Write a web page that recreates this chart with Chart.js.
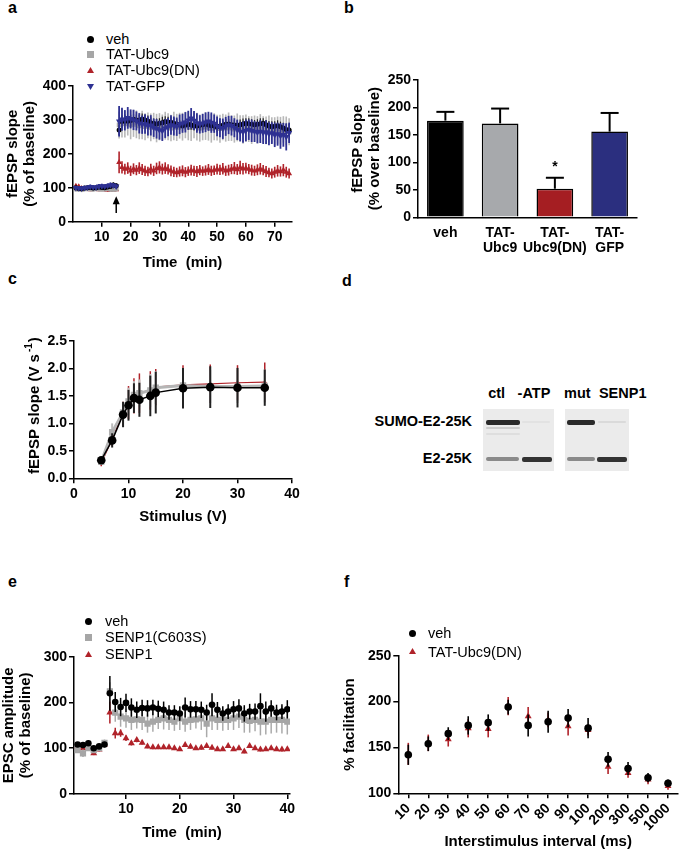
<!DOCTYPE html>
<html>
<head>
<meta charset="utf-8">
<script src="https://cdn.jsdelivr.net/npm/chart.js@4.4.1/dist/chart.umd.min.js"></script>
<style>
html,body{margin:0;padding:0;background:#fff;}
#page{position:relative;width:685px;height:856px;overflow:hidden;font-family:"Liberation Sans",Arial,Helvetica,sans-serif;color:#000;}
#page canvas{position:absolute;}
.pl{position:absolute;font-weight:bold;font-size:16px;line-height:16px;}
.lg{position:absolute;font-size:14.5px;line-height:16px;white-space:nowrap;}
.mk{position:absolute;}
.bl{position:absolute;font-weight:bold;font-size:14.5px;line-height:16px;white-space:nowrap;}
.blot{position:absolute;background:#ebebeb;}
.band{position:absolute;border-radius:2px;filter:blur(0.7px);}
</style>
</head>
<body>
<div id="page">
  <div class="pl" style="left:8px;top:0px">a</div>
  <div class="pl" style="left:344px;top:0px">b</div>
  <div class="pl" style="left:8px;top:271px">c</div>
  <div class="pl" style="left:342px;top:273px">d</div>
  <div class="pl" style="left:8px;top:574px">e</div>
  <div class="pl" style="left:344px;top:574px">f</div>

  <!-- panel d: western blot -->
  <div class="bl" style="left:496.7px;top:385px;transform:translateX(-50%)">ctl</div>
  <div class="bl" style="left:534px;top:385px;transform:translateX(-50%)">-ATP</div>
  <div class="bl" style="left:577.3px;top:385px;transform:translateX(-50%)">mut</div>
  <div class="bl" style="left:622.7px;top:385px;transform:translateX(-50%)">SENP1</div>
  <div class="bl" style="right:213px;top:412.7px">SUMO-E2-25K</div>
  <div class="bl" style="right:213px;top:449.7px">E2-25K</div>
  <div class="blot" style="left:483px;top:409px;width:71px;height:62px"></div>
  <div class="blot" style="left:565px;top:409px;width:64px;height:62px"></div>
  <div class="band" style="left:486px;top:419.5px;width:34px;height:5.5px;background:#2a2a2a"></div>
  <div class="band" style="left:486px;top:427px;width:34px;height:2px;background:#cdcdcd"></div>
  <div class="band" style="left:486px;top:433px;width:34px;height:2px;background:#dedede"></div>
  <div class="band" style="left:486px;top:457px;width:33px;height:3.5px;background:#8a8a8a"></div>
  <div class="band" style="left:522px;top:456.5px;width:30px;height:5px;background:#333"></div>
  <div class="band" style="left:522px;top:421px;width:28px;height:2px;background:#e2e2e2"></div>
  <div class="band" style="left:567px;top:419.5px;width:28px;height:5.5px;background:#2a2a2a"></div>
  <div class="band" style="left:567px;top:457px;width:28px;height:3.5px;background:#8a8a8a"></div>
  <div class="band" style="left:597px;top:456.5px;width:30px;height:5px;background:#333"></div>
  <div class="band" style="left:598px;top:421px;width:28px;height:2px;background:#dadada"></div>
</div>
<script>
// ---------------- DATA ----------------
// panel a : fEPSP slope (% of baseline) vs time (min)
const aNames = ['veh', 'TAT-Ubc9', 'TAT-Ubc9(DN)', 'TAT-GFP'];
const aXTicks = [10, 20, 30, 40, 50, 60, 70];
const aTime = [1,2,3,4,5,6,7,8,9,10,11,12,13,14,15,
16,17,18,19,20,21,22,23,24,25,
26,27,28,29,30,31,32,33,34,35,
36,37,38,39,40,41,42,43,44,45,
46,47,48,49,50,51,52,53,54,55,
56,57,58,59,60,61,62,63,64,65,
66,67,68,69,70,71,72,73,74,75];
const aVeh = [100,98,97,99,100,101,99,100,102,101,100,102,104,108,106,
270,295,300,296,298,302,300,298,303,300,
297,292,290,288,290,292,295,294,293,290,
288,285,283,285,287,286,283,282,284,286,
288,285,283,282,280,282,284,287,288,286,
285,284,286,288,290,289,287,286,287,289,
290,286,282,280,281,283,280,276,272,270];
const aVehErr = [5,5,6,5,6,5,6,5,6,6,5,6,7,8,7,
15,18,16,15,17,16,15,17,16,15,
16,15,14,16,15,17,16,15,16,15,
14,15,16,15,16,15,14,15,16,15,
14,16,15,15,16,15,14,16,15,16,
15,14,15,16,15,16,15,14,15,16,
15,14,15,16,15,16,15,16,17,18];
const aUbc9 = [97,96,95,97,98,97,96,98,97,96,97,98,96,95,97,
285,290,288,292,285,290,287,282,285,280,
284,278,282,276,280,278,283,280,276,282,
278,283,280,285,282,278,284,280,276,279,
282,278,275,280,277,274,279,276,280,276,
273,278,275,272,276,273,270,274,271,275,
272,269,273,270,266,270,268,272,268,265];
const aUbc9Err = [8,7,8,7,8,7,8,7,8,7,8,7,8,7,8,
40,42,40,38,42,40,41,39,42,40,
38,41,39,42,40,38,41,40,39,42,
40,38,41,39,42,40,38,41,40,39,
41,39,42,40,38,41,39,40,42,38,
40,41,39,42,40,38,41,39,40,42,
39,41,40,38,42,40,41,39,42,40];
const aUbc9DN = [105,103,98,96,97,95,96,97,95,96,95,94,93,94,95,
175,160,155,158,150,156,152,158,154,150,
148,155,150,157,160,155,158,154,150,147,
145,148,150,146,149,152,150,148,152,149,
151,154,150,152,155,153,156,150,152,155,
158,154,160,156,158,155,152,150,153,156,
152,148,145,142,146,150,148,152,146,142];
const aUbc9DNErr = [6,6,5,5,6,5,5,6,5,5,6,5,5,6,5,
32,18,16,17,15,16,15,17,16,15,
14,16,15,17,18,16,17,15,16,15,
14,15,16,15,14,16,15,16,15,14,
15,16,15,14,16,15,17,15,16,15,
18,16,20,17,16,15,16,15,16,17,
15,16,14,15,16,17,15,18,16,15];
const aGFP = [100,99,98,100,101,103,102,101,104,105,104,106,108,107,104,
296,302,299,306,303,300,297,290,286,288,
282,284,277,274,270,268,275,279,285,282,
280,287,290,293,299,305,298,291,287,290,
293,296,292,289,281,277,274,281,285,283,
277,271,266,264,269,271,268,266,263,266,
262,264,259,261,256,258,253,256,250,262];
const aGFPErr = [6,6,5,6,6,7,6,6,7,7,6,7,8,7,6,
45,34,30,32,28,30,28,30,27,29,
28,30,27,29,28,30,28,27,29,28,
27,29,28,30,28,30,28,29,27,28,
29,28,30,27,29,28,30,28,27,29,
28,30,29,31,32,30,33,31,32,34,
33,35,34,32,36,34,38,35,40,30];
const aArrow = [15, 75, 26]; // time, tip value, tail value

// panel b : fEPSP slope (% over baseline)
const bLabels = ['veh', ['TAT-', 'Ubc9'], ['TAT-', 'Ubc9(DN)'], ['TAT-', 'GFP']];
const bValues = [176, 171, 52, 156];
const bErr = [16, 27, 20, 34];
const bSignif = ['', '', '*', ''];

// panel c : input-output curve
const cNames = ['veh', 'TAT-Ubc9', 'TAT-Ubc9(DN)'];
const cStim = [5, 7, 9, 10, 11, 12, 14, 15, 20, 25, 30, 35];
const cVeh = [0.33, 0.69, 1.16, 1.33, 1.46, 1.43, 1.50, 1.56, 1.64, 1.66, 1.65, 1.65];
const cVehErr = [0.05, 0.13, 0.23, 0.28, 0.27, 0.31, 0.37, 0.38, 0.37, 0.38, 0.36, 0.33];
const cUbc9 = [0.30, 0.84, 1.20, 1.40, 1.52, 1.55, 1.60, 1.65, 1.69, 1.67, 1.67, 1.68];
const cUbc9Err = [0.04, 0.16, 0.20, 0.25, 0.25, 0.25, 0.30, 0.30, 0.30, 0.30, 0.30, 0.30];
const cUbc9DN = [0.27, 0.72, 1.18, 1.38, 1.50, 1.55, 1.60, 1.66, 1.70, 1.72, 1.74, 1.75];
const cUbc9DNErr = [0.05, 0.13, 0.22, 0.30, 0.32, 0.36, 0.35, 0.33, 0.36, 0.35, 0.32, 0.36];
const cYTitle = ['fEPSP slope (V s', '-1', ')'];

// panel e : EPSC amplitude (% of baseline) vs time
const eNames = ['veh', 'SENP1(C603S)', 'SENP1'];
const eXTicks = [10, 20, 30, 40];
const eTime = [1,2,3,4,5,6,7,8,9,10,11,12,13,14,15,16,17,18,19,20,
21,22,23,24,25,26,27,28,29,30,31,32,33,34,35,36,37,38,39,40];
const eVeh = [108,107,111,100,104,108,220,201,190,199,
189,184,188,187,189,186,184,178,178,176,
189,185,185,184,178,195,184,176,180,185,
187,176,180,180,192,180,187,178,180,185];
const eVehErr = [5,5,6,5,5,6,38,22,20,20,
20,18,18,18,17,18,18,16,16,16,
22,18,18,18,17,25,17,16,16,18,
20,18,17,18,28,22,18,17,16,20];
const eMut = [96,89,100,96,100,112,224,178,169,165,
162,163,162,154,158,162,165,162,158,165,
158,162,163,165,154,165,162,162,162,165,
169,162,160,162,158,158,162,162,162,158];
const eMutErr = [5,8,6,5,6,7,20,20,22,20,
22,20,22,20,22,20,24,22,20,25,
22,22,20,25,30,25,22,24,22,25,
25,28,26,25,30,28,30,28,30,28];
const eSenp = [104,100,100,89,97,108,178,133,133,122,
111,118,112,104,102,102,102,102,100,98,
107,103,100,101,105,101,98,98,105,98,
100,93,105,100,97,98,100,98,97,98];
const eSenpErr = [4,4,4,4,4,4,24,12,8,6,
5,5,4,4,4,4,4,4,4,4,
4,4,4,4,4,4,4,4,4,4,
4,4,4,4,4,4,4,4,4,4];

// panel f : paired-pulse facilitation
const fNames = ['veh', 'TAT-Ubc9(DN)'];
const fLabels = ['10','20','30','40','50','60','70','80','90','100','200','300','500','1000'];
const fVeh = [142, 154, 165, 174, 177, 194, 174, 178, 182, 171, 137, 127, 117, 111];
const fVehErr = [11, 8, 7, 10, 9, 8, 12, 12, 10, 11, 8, 7, 5, 4];
const fDN = [143, 155, 159, 171, 170, 195, 184, 180, 173, 169, 129, 122, 115, 108];
const fDNErr = [12, 9, 8, 10, 9, 10, 10, 8, 10, 6, 8, 5, 5, 4];

// ---------------- STYLE ----------------
const FONT = '"Liberation Sans", Arial, Helvetica, sans-serif';
const C_BLACK = '#000000', C_GRAY = '#a6a6a6', C_RED = '#b0232a', C_BLUE = '#2e3192';
Chart.defaults.font.family = FONT;
Chart.defaults.color = '#000';
const page = document.getElementById('page');

function yv(d) { return (d !== null && typeof d === 'object') ? d.y : d; }

function drawErr(chart, idx, phase) {
  const ds = chart.data.datasets[idx];
  if (!ds.errors || (ds.errPhase || 'before') !== phase) return;
  const meta = chart.getDatasetMeta(idx);
  const ys = chart.scales[meta.yAxisID];
  const ctx = chart.ctx;
  ctx.save();
  ctx.strokeStyle = ds.errColor || '#000';
  ctx.lineWidth = ds.errWidth || 1.5;
  meta.data.forEach((el, k) => {
    const v = yv(ds.data[k]); const e = ds.errors[k];
    if (v == null || e == null) return;
    const top = ys.getPixelForValue(v + e);
    const bot = ds.errUpOnly ? ys.getPixelForValue(v) : ys.getPixelForValue(v - e);
    ctx.beginPath(); ctx.moveTo(el.x, top); ctx.lineTo(el.x, bot); ctx.stroke();
    if (ds.errCap) { ctx.beginPath(); ctx.moveTo(el.x - ds.errCap, top); ctx.lineTo(el.x + ds.errCap, top); ctx.stroke(); }
  });
  ctx.restore();
}
const errorBars = {
  id: 'errorBars',
  beforeDatasetDraw(chart, args) { drawErr(chart, args.index, 'before'); },
  afterDatasetDraw(chart, args) { drawErr(chart, args.index, 'after'); }
};

function makeCanvas(box) {
  const c = document.createElement('canvas');
  c.width = box[2] - box[0]; c.height = box[3] - box[1];
  c.style.left = box[0] + 'px'; c.style.top = box[1] + 'px';
  c.style.width = c.width + 'px'; c.style.height = c.height + 'px';
  page.appendChild(c);
  return c;
}

function scaleOpts(o) {
  const s = {
    type: o.type || 'linear',
    offset: !!o.offset,
    border: {display: true, color: '#000', width: 1.5},
    grid: {display: !o.noTicks, drawOnChartArea: false, drawTicks: !o.noTicks, tickLength: o.tl === undefined ? 5 : o.tl, color: '#000', lineWidth: 1.5},
    ticks: Object.assign({color: '#000', font: {size: 14, weight: 'bold', lineHeight: o.tickLH || 1.2},
      padding: o.pad === undefined ? 2 : o.pad, autoSkip: false, maxRotation: o.rot || 0, minRotation: o.rot || 0}, o.ticks || {}),
    title: o.title ? {display: true, text: o.title, color: '#000', font: {size: 15, weight: 'bold', lineHeight: 1.15}, padding: o.titlePad} : {display: false}
  };
  if (o.min !== undefined) s.min = o.min;
  if (o.max !== undefined) s.max = o.max;
  if (o.tickValues) s.afterBuildTicks = sc => { sc.ticks = o.tickValues.map(v => ({value: v})); };
  return s;
}

function makeChart(box, area, type, data, xo, yo, plugins) {
  const cv = makeCanvas(box);
  const yW = area[0] - box[0], padTop = area[1] - box[1], padRight = box[2] - area[2], xH = box[3] - area[3];
  const xs = scaleOpts(xo), ys = scaleOpts(yo);
  xs.afterFit = s => { s.height = xH; };
  ys.afterFit = s => { s.width = yW; };
  return new Chart(cv, {
    type, data,
    options: {
      responsive: false, animation: false, devicePixelRatio: 1,
      layout: {padding: {top: padTop, right: padRight, left: 0, bottom: 0}},
      plugins: {legend: {display: false}, tooltip: {enabled: false}},
      scales: {x: xs, y: ys}
    },
    plugins: [errorBars].concat(plugins || [])
  });
}

function markerSVG(shape, color, s) {
  let inner;
  if (shape === 'circle') inner = `<circle cx="${s/2}" cy="${s/2}" r="${s/2}" fill="${color}"/>`;
  else if (shape === 'rect') inner = `<rect x="0" y="0" width="${s}" height="${s}" fill="${color}"/>`;
  else if (shape === 'tri') inner = `<polygon points="${s/2},0 ${s},${s*0.87} 0,${s*0.87}" fill="${color}"/>`;
  else inner = `<polygon points="0,${s*0.13} ${s},${s*0.13} ${s/2},${s}" fill="${color}"/>`;
  return `<svg width="${s}" height="${s}" xmlns="http://www.w3.org/2000/svg">${inner}</svg>`;
}
function addLegend(names, shapes, colors, rowsY, markerX, textX, size) {
  names.forEach((n, i) => {
    const m = document.createElement('div');
    m.className = 'mk';
    m.style.left = (markerX - size / 2) + 'px'; m.style.top = (rowsY[i] - size / 2) + 'px';
    m.style.width = size + 'px'; m.style.height = size + 'px'; m.style.lineHeight = '0';
    m.innerHTML = markerSVG(shapes[i], colors[i], size);
    page.appendChild(m);
    const t = document.createElement('div');
    t.className = 'lg'; t.textContent = n;
    t.style.left = textX + 'px'; t.style.top = (rowsY[i] - 8) + 'px';
    page.appendChild(t);
  });
}

function pts(xsArr, ysArr) { return xsArr.map((x, i) => ({x, y: ysArr[i]})); }

// ---------------- PANEL A ----------------
const arrowPlugin = {
  id: 'arrowA',
  afterDatasetsDraw(chart) {
    const ctx = chart.ctx, x = chart.scales.x.getPixelForValue(aArrow[0]);
    const tip = chart.scales.y.getPixelForValue(aArrow[1]), tail = chart.scales.y.getPixelForValue(aArrow[2]);
    ctx.save(); ctx.strokeStyle = '#000'; ctx.fillStyle = '#000'; ctx.lineWidth = 1.5;
    ctx.beginPath(); ctx.moveTo(x, tail); ctx.lineTo(x, tip + 5); ctx.stroke();
    ctx.beginPath(); ctx.moveTo(x, tip); ctx.lineTo(x - 3.5, tip + 8); ctx.lineTo(x + 3.5, tip + 8); ctx.closePath(); ctx.fill();
    ctx.restore();
  }
};
makeChart([0, 55, 305, 275], [73, 86, 292, 221.7], 'scatter', {
  datasets: [
    {label: aNames[3], data: pts(aTime, aGFP), errors: aGFPErr, errColor: C_BLUE, errWidth: 1.8, pointStyle: 'triangle', rotation: 180, pointRadius: 3.6, backgroundColor: C_BLUE, borderWidth: 0, order: 0},
    {label: aNames[0], data: pts(aTime, aVeh), errors: aVehErr, errColor: '#222', errWidth: 1.2, pointStyle: 'circle', pointRadius: 2.5, backgroundColor: C_BLACK, borderWidth: 0, order: 1},
    {label: aNames[1], data: pts(aTime, aUbc9), errors: aUbc9Err, errColor: '#b8b8b8', errWidth: 1.6, pointStyle: 'rect', pointRadius: 3.3, backgroundColor: C_GRAY, borderWidth: 0, order: 2},
    {label: aNames[2], data: pts(aTime, aUbc9DN), errors: aUbc9DNErr, errColor: C_RED, errWidth: 1.6, pointStyle: 'triangle', pointRadius: 3.4, backgroundColor: C_RED, borderWidth: 0, order: 3}
  ]
},
{min: 0, max: 76, tickValues: aXTicks, title: 'Time  (min)', titlePad: {top: 0, bottom: 3.7}},
{min: 0, max: 400, ticks: {stepSize: 100}, title: ['fEPSP slope', '(% of baseline)'], titlePad: {top: 4.4, bottom: 0}},
[arrowPlugin]);
addLegend(aNames, ['circle', 'rect', 'tri', 'tridown'], [C_BLACK, C_GRAY, C_RED, C_BLUE], [39, 54, 70, 86], 90, 106, 7);

// ---------------- PANEL B ----------------
const starPlugin = {
  id: 'starB',
  afterDatasetsDraw(chart) {
    const ctx = chart.ctx, meta = chart.getDatasetMeta(0), ys = chart.scales.y;
    ctx.save(); ctx.fillStyle = '#000'; ctx.font = 'bold 14px ' + FONT; ctx.textAlign = 'center'; ctx.textBaseline = 'alphabetic';
    bSignif.forEach((s, i) => { if (s) ctx.fillText(s, meta.data[i].x, ys.getPixelForValue(bValues[i] + bErr[i]) - 7); });
    ctx.restore();
  }
};
makeChart([340, 55, 685, 265], [418, 80, 637, 217.3], 'bar', {
  labels: bLabels,
  datasets: [{data: bValues, errors: bErr, errPhase: 'after', errUpOnly: true, errCap: 9, errWidth: 2, errColor: '#000',
    backgroundColor: ['#000000', '#a7a9ac', '#a51e22', '#2b2f7f'], borderColor: '#000', borderWidth: 1.5,
    barPercentage: 0.67, categoryPercentage: 1.0}]
},
{type: 'category', offset: true, noTicks: true, tl: 0, pad: 8, tickLH: 1.1},
{min: 0, max: 250, ticks: {stepSize: 50}, title: ['fEPSP slope', '(% over baseline)'], titlePad: {top: 8.9, bottom: 0}},
[starPlugin]);

// ---------------- PANEL C ----------------
const cTitlePlugin = {
  id: 'cTitle',
  afterDraw(chart) {
    const ctx = chart.ctx, a = chart.chartArea;
    ctx.save();
    ctx.translate(35, (a.top + a.bottom) / 2 - 4);
    ctx.rotate(-Math.PI / 2);
    ctx.fillStyle = '#000'; ctx.textBaseline = 'middle'; ctx.textAlign = 'left';
    const f1 = 'bold 15px ' + FONT, f2 = 'bold 10px ' + FONT;
    ctx.font = f1; const w1 = ctx.measureText(cYTitle[0]).width, w3 = ctx.measureText(cYTitle[2]).width;
    ctx.font = f2; const w2 = ctx.measureText(cYTitle[1]).width;
    let x = -(w1 + w2 + w3 + 3) / 2;
    ctx.font = f1; ctx.fillText(cYTitle[0], x, 0); x += w1 + 2;
    ctx.font = f2; ctx.fillText(cYTitle[1], x, -6); x += w2 + 1;
    ctx.font = f1; ctx.fillText(cYTitle[2], x, 0);
    ctx.restore();
  }
};
makeChart([0, 320, 310, 530], [74, 341, 292, 478.3], 'scatter', {
  datasets: [
    {label: cNames[0], data: pts(cStim, cVeh), errors: cVehErr, errColor: '#222', errWidth: 2, showLine: true, borderColor: '#000', borderWidth: 1.5, pointStyle: 'circle', pointRadius: 4.3, backgroundColor: '#000', pointBorderWidth: 0, order: 0},
    {label: cNames[1], data: pts(cStim, cUbc9), errors: cUbc9Err, errColor: '#bdbdbd', errWidth: 2, showLine: true, borderColor: '#b5b5b5', borderWidth: 3, pointStyle: 'rect', pointRadius: 4.5, backgroundColor: '#b0b0b0', pointBorderWidth: 0, order: 1},
    {label: cNames[2], data: pts(cStim, cUbc9DN), errors: cUbc9DNErr, errColor: C_RED, errWidth: 1.5, showLine: true, borderColor: C_RED, borderWidth: 1.2, pointStyle: 'triangle', pointRadius: 3, backgroundColor: C_RED, pointBorderWidth: 0, order: 2}
  ]
},
{min: 0, max: 40, ticks: {stepSize: 10}, title: 'Stimulus (V)', titlePad: {top: 0, bottom: 4.4}},
{min: 0, max: 2.5, ticks: {stepSize: 0.5, callback: v => Number(v).toFixed(1)}},
[cTitlePlugin]);

// ---------------- PANEL E ----------------
makeChart([0, 600, 310, 856], [74, 656.7, 290, 794], 'scatter', {
  datasets: [
    {label: eNames[0], data: pts(eTime, eVeh), errors: eVehErr, errColor: '#000', errWidth: 1.5, pointStyle: 'circle', pointRadius: 3.3, backgroundColor: '#000', borderWidth: 0, order: 0},
    {label: eNames[1], data: pts(eTime, eMut), errors: eMutErr, errColor: '#aaaaaa', errWidth: 1.5, pointStyle: 'rect', pointRadius: 4.4, backgroundColor: C_GRAY, borderWidth: 0, order: 1},
    {label: eNames[2], data: pts(eTime, eSenp), errors: eSenpErr, errColor: C_RED, errWidth: 1.5, pointStyle: 'triangle', pointRadius: 4, backgroundColor: C_RED, borderWidth: 0, order: 2}
  ]
},
{min: 0.33, max: 40.5, tickValues: eXTicks, title: 'Time  (min)', titlePad: {top: 0, bottom: 14.4}},
{min: 0, max: 300, ticks: {stepSize: 100}, title: ['EPSC amplitude', '(% of baseline)'], titlePad: {top: 0.4, bottom: 0}});
addLegend(eNames, ['circle', 'rect', 'tri'], [C_BLACK, C_GRAY, C_RED], [621, 637, 654], 88, 105, 7);

// ---------------- PANEL F ----------------
makeChart([340, 600, 685, 856], [398.3, 655.7, 678, 793.3], 'line', {
  labels: fLabels,
  datasets: [
    {label: fNames[0], data: fVeh, errors: fVehErr, errColor: '#000', errWidth: 1.6, showLine: false, pointStyle: 'circle', pointRadius: 3.8, backgroundColor: '#000', borderColor: '#000', pointBorderWidth: 0, order: 0},
    {label: fNames[1], data: fDN, errors: fDNErr, errColor: C_RED, errWidth: 1.6, showLine: false, pointStyle: 'triangle', pointRadius: 4, backgroundColor: C_RED, borderColor: C_RED, pointBorderWidth: 0, order: 1}
  ]
},
{type: 'category', offset: true, rot: 45, title: 'Interstimulus interval (ms)', titlePad: {top: 0, bottom: 5.7}},
{min: 100, max: 250, ticks: {stepSize: 50}, title: '% facilitation', titlePad: {top: 1.4, bottom: 0}});
addLegend(fNames, ['circle', 'tri'], [C_BLACK, C_RED], [633, 651.5], 412.7, 428, 7);
</script>
</body>
</html>
